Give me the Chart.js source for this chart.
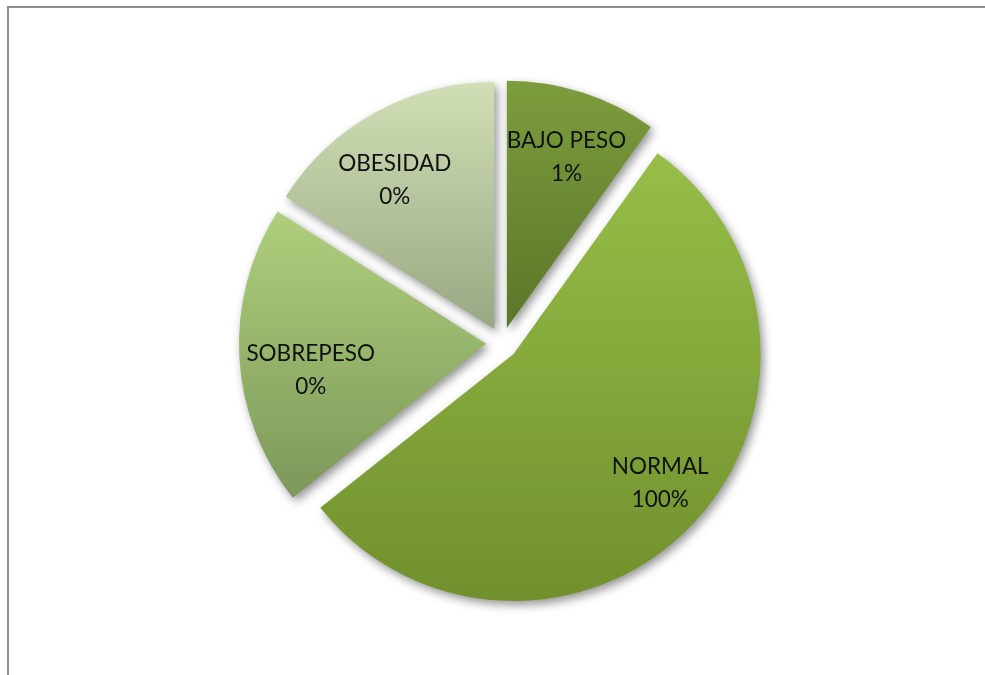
<!DOCTYPE html>
<html>
<head>
<meta charset="utf-8">
<script src="https://cdn.jsdelivr.net/npm/chart.js@4/dist/chart.umd.min.js"></script>
<style>
  html, body { margin: 0; padding: 0; background: #ffffff; }
  #wrap { width: 985px; height: 675px; }
</style>
</head>
<body>
<div id="wrap"><canvas id="pie" width="985" height="675"></canvas></div>
<script>
// Weight categories and their share of the pie
const categories = ['BAJO PESO', 'NORMAL', 'SOBREPESO', 'OBESIDAD'];
const shares = [9.9, 54.4, 19.7, 16.0];
// Percent text printed under each category name
const percentLabels = ['1%', '100%', '0%', '0%'];

// Slice fills: light top to dark bottom
const topColors = ['#7c9d3d', '#97be48', '#afcf7c', '#d0dfb5'];
const bottomColors = ['#5a7628', '#70902d', '#7c985a', '#98a882'];

const EXPLODE = 16;   // px each slice is pulled away from the centre
const RADIUS = 247;
// Small per-slice shifts of the text block, in px
const labelNudge = [[4, 2], [15, 4], [6, 16], [-12, 10]];

// Grey frame along the top and left edges
const framePlugin = {
  id: 'frame',
  beforeDraw(chart) {
    const c = chart.ctx;
    c.save();
    c.fillStyle = '#ffffff';
    c.fillRect(0, 0, chart.width, chart.height);
    c.strokeStyle = '#8e8e8e';
    c.lineWidth = 2;
    c.strokeRect(8, 7, chart.width + 20, chart.height + 20);
    c.restore();
  }
};

// Draws each arc pulled out along its mid angle, with a gradient and a soft shadow
const explodePlugin = {
  id: 'explode',
  beforeDatasetDraw(chart, args) {
    const c = chart.ctx;
    const meta = args.meta;
    meta.data.forEach((arc, i) => {
      const p = arc.getProps(['x', 'y', 'startAngle', 'endAngle', 'outerRadius']);
      // vertical extent of the slice
      const ys = [p.y, p.y + Math.sin(p.startAngle) * p.outerRadius, p.y + Math.sin(p.endAngle) * p.outerRadius];
      [-Math.PI / 2, Math.PI / 2, 3 * Math.PI / 2].forEach(a => {
        if (a >= p.startAngle && a <= p.endAngle) ys.push(p.y + Math.sin(a) * p.outerRadius);
      });
      const y0 = Math.min(...ys), y1 = Math.max(...ys);
      const grad = c.createLinearGradient(0, y0, 0, y1);
      grad.addColorStop(0, topColors[i]);
      grad.addColorStop(1, bottomColors[i]);

      const mid = (p.startAngle + p.endAngle) / 2;
      c.save();
      c.translate(Math.cos(mid) * EXPLODE, Math.sin(mid) * EXPLODE);
      c.shadowColor = 'rgba(0,0,0,0.42)';
      c.shadowBlur = 10;
      c.shadowOffsetX = 3;
      c.shadowOffsetY = 4;
      const saved = arc.options;
      arc.options = Object.assign({}, saved, { backgroundColor: grad });
      arc.draw(c);
      arc.options = saved;
      c.restore();
    });
    return false;
  }
};

// Category name and percent text inside each slice
const labelPlugin = {
  id: 'sliceLabels',
  afterDatasetsDraw(chart) {
    const c = chart.ctx;
    const meta = chart.getDatasetMeta(0);
    c.save();
    c.fillStyle = '#111111';
    c.font = '22.5px Lato';
    c.textAlign = 'center';
    c.textBaseline = 'middle';
    meta.data.forEach((arc, i) => {
      const p = arc.getProps(['x', 'y', 'startAngle', 'endAngle', 'outerRadius']);
      const mid = (p.startAngle + p.endAngle) / 2;
      const d = p.outerRadius * 0.8;
      const x = p.x + Math.cos(mid) * d + labelNudge[i][0];
      const y = p.y + Math.sin(mid) * d + labelNudge[i][1];
      c.fillText(categories[i], x, y - 16);
      c.fillText(percentLabels[i], x, y + 17);
    });
    c.restore();
  }
};

new Chart(document.getElementById('pie'), {
  type: 'pie',
  data: {
    labels: categories,
    datasets: [{
      data: shares,
      backgroundColor: topColors,
      borderWidth: 0,
      radius: RADIUS
    }]
  },
  options: {
    responsive: false,
    animation: false,
    devicePixelRatio: 1,
    events: [],
    layout: { padding: { left: 19, top: 11, right: 0, bottom: 0 } },
    plugins: {
      legend: { display: false },
      tooltip: { enabled: false }
    }
  },
  plugins: [framePlugin, explodePlugin, labelPlugin]
});
</script>
</body>
</html>
